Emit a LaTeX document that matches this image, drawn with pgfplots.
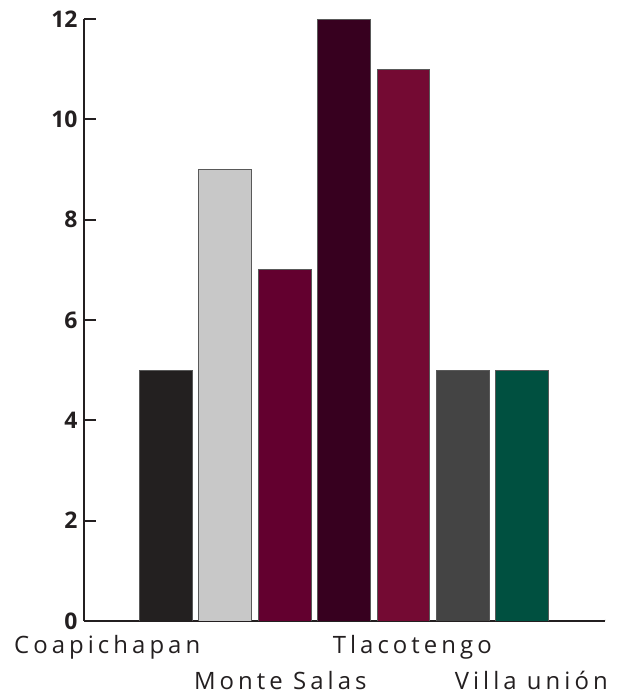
\documentclass[border=0pt]{standalone}
\usepackage{fontspec}
\setmainfont{Open Sans}
\newfontfamily\spaced[LetterSpace=17]{Open Sans}
\usepackage{pgfplots}
\pgfplotsset{compat=1.18}
\definecolor{axc}{HTML}{231F20}
\definecolor{c1}{HTML}{232020}
\definecolor{c2}{HTML}{C8C8C8}
\definecolor{c3}{HTML}{63002F}
\definecolor{c4}{HTML}{37001F}
\definecolor{c5}{HTML}{740A33}
\definecolor{c6}{HTML}{444444}
\definecolor{c7}{HTML}{005040}
\begin{document}
\begin{tikzpicture}
\useasboundingbox (0,0) rectangle (619bp,695bp);
\begin{axis}[
  at={(84bp,74bp)}, anchor=south west,
  scale only axis, width=521bp, height=602bp,
  xmin=-0.37, xmax=8.39, ymin=0, ymax=12,
  axis lines*=left,
  axis line style={line width=2bp, color=axc},
  ybar, bar width=0.89, bar shift=0pt,
  ytick={0,2,4,6,8,10,12},
  tick align=inside,
  major tick length=12bp,
  tick style={line width=2bp, color=axc},
  xtick style={draw=none},
  xtick={0.02,5.15}, xticklabels={Coapichapan,Tlacotengo},
  extra x ticks={2.93,7.15}, extra x tick labels={Monte Salas,Villa unión},
  extra x tick style={xticklabel style={yshift=-36bp}},
  xticklabel style={font=\spaced\fontsize{24}{26}\selectfont, text=axc, yshift=-11bp},
  yticklabel style={font=\bfseries\fontsize{23}{24}\selectfont, text=axc, xshift=-3bp},
  /pgf/number format/assume math mode=true,
  every axis plot/.append style={draw=black!65, line width=0.8bp},
]
\addplot[fill=c1] coordinates {(1,5)};
\addplot[fill=c2] coordinates {(2,9)};
\addplot[fill=c3] coordinates {(3,7)};
\addplot[fill=c4] coordinates {(4,12)};
\addplot[fill=c5] coordinates {(5,11)};
\addplot[fill=c6] coordinates {(6,5)};
\addplot[fill=c7] coordinates {(7,5)};
\draw[line width=2bp, color=axc] (rel axis cs:1,0) -- ++(0,12bp);
\end{axis}
\end{tikzpicture}
\end{document}
